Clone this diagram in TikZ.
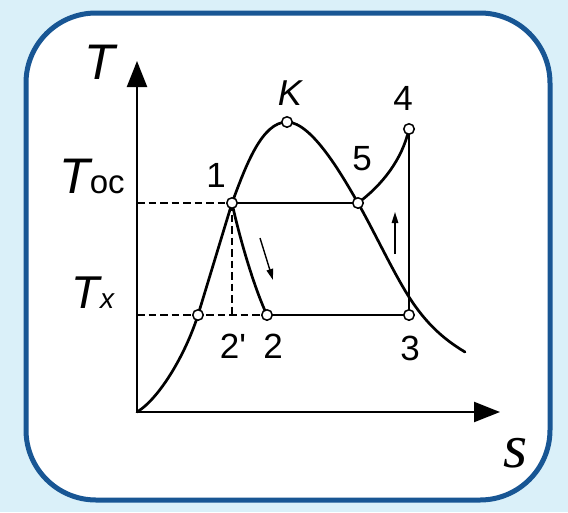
\documentclass[tikz,border=0pt]{standalone}
\usepackage{fontspec}
\setmainfont{Liberation Sans}
\newfontfamily\serifit{Liberation Serif}
\usetikzlibrary{arrows.meta}
\definecolor{bgblue}{RGB}{218,240,249}
\definecolor{frameblue}{RGB}{24,86,148}
\begin{document}
\begin{tikzpicture}[x=1pt,y=-1pt,
  curve/.style={line width=2.7pt,line cap=round},
  axisline/.style={line width=2.3pt,-{Triangle[length=26pt,width=20pt]}},
  dashline/.style={line width=1.8pt,dash pattern=on 7.5pt off 4pt},
  ptc/.style={circle,draw,fill=white,line width=1.5pt,inner sep=0pt,minimum size=10.5pt},
  smallarrow/.style={line width=1.4pt,-{Triangle[length=11pt,width=6.5pt]}},
  lbl/.style={anchor=base,inner sep=0pt,font=\fontsize{35}{40}\selectfont},
  biglbl/.style={anchor=base,inner sep=0pt,font=\fontsize{50}{55}\selectfont\itshape}]
\useasboundingbox (0,0) rectangle (568,512);
\fill[bgblue] (0,0) rectangle (568,512);
\draw[frameblue,line width=5pt,fill=white,rounded corners=70pt] (26,13) rectangle (550,500);

% coordinates
\coordinate (O) at (137,412);
\coordinate (ytip) at (137,61);
\coordinate (xtip) at (500,412);
\coordinate (c1) at (232,203);
\coordinate (cK) at (287,122);
\coordinate (c5) at (358,203);
\coordinate (c4) at (409,129);
\coordinate (c3) at (409,315);
\coordinate (c2) at (267,315);
\coordinate (ca) at (198,315);
\coordinate (c2p) at (232,315);
\coordinate (cX) at (409,297);
\coordinate (cE) at (465,352);
\coordinate (yT) at (137,203);
\coordinate (yX) at (137,315);
\coordinate (a1s) at (260,238);
\coordinate (a1e) at (273,280);
\coordinate (a2s) at (395,254);
\coordinate (a2e) at (395,212);

% axes
\draw[axisline] (O) -- (ytip);
\draw[axisline] (O) -- (xtip);

% dashed lines
\draw[dashline] (yT) -- (c1);
\draw[dashline] (yX) -- (c2);
\draw[dashline] (c1) -- (c2p);

% saturation curve
\draw[curve] (O) .. controls (160,398) and (186,353) .. (ca)
  -- (c1) .. controls (246,165) and (262,122) .. (cK)
  .. controls (312,122) and (343,177) .. (c5)
  .. controls (375,233) and (392,270) .. (cX)
  .. controls (427,325) and (445,340) .. (cE);

% cycle
\draw[curve] (c1) -- (c5);
\draw[curve] (c1) .. controls (240,240) and (255,290) .. (c2);
\draw[curve] (c2) -- (c3) -- (c4);
\draw[curve] (c5) .. controls (382,185) and (402,160) .. (c4);

% small arrows
\draw[smallarrow] (a1s) -- (a1e);
\draw[smallarrow] (a2s) -- (a2e);

% points
\node[ptc] (n1) at (c1) {};
\node[ptc] (nK) at (cK) {};
\node[ptc] (n5) at (c5) {};
\node[ptc] (n4) at (c4) {};
\node[ptc] (n3) at (c3) {};
\node[ptc] (n2) at (c2) {};
\node[ptc] (na) at (ca) {};

% labels
\node[biglbl] (lT) at (100,79) {T};
\node[biglbl,font=\fontsize{62}{66}\selectfont\serifit\itshape] (lS) at (516,467) {s};
\node[anchor=base,inner sep=0pt] (lToc) at (92,193) {\fontsize{50}{55}\selectfont\itshape T\fontsize{33}{38}\selectfont\upshape oc};
\node[anchor=base,inner sep=0pt] (lTx) at (93,308) {\fontsize{46}{50}\selectfont\itshape T\fontsize{28}{30}\selectfont x};
\node[lbl] (l1) at (216,187) {1};
\node[lbl,font=\fontsize{36}{40}\selectfont\itshape] (lK) at (290,105) {K};
\node[lbl] (l5) at (362,170) {5};
\node[lbl] (l4) at (403,110) {4};
\node[lbl] (l2p) at (233,358) {2\textquotesingle};
\node[lbl] (l2) at (273,358) {2};
\node[lbl] (l3) at (410,360) {3};
\end{tikzpicture}
\end{document}
